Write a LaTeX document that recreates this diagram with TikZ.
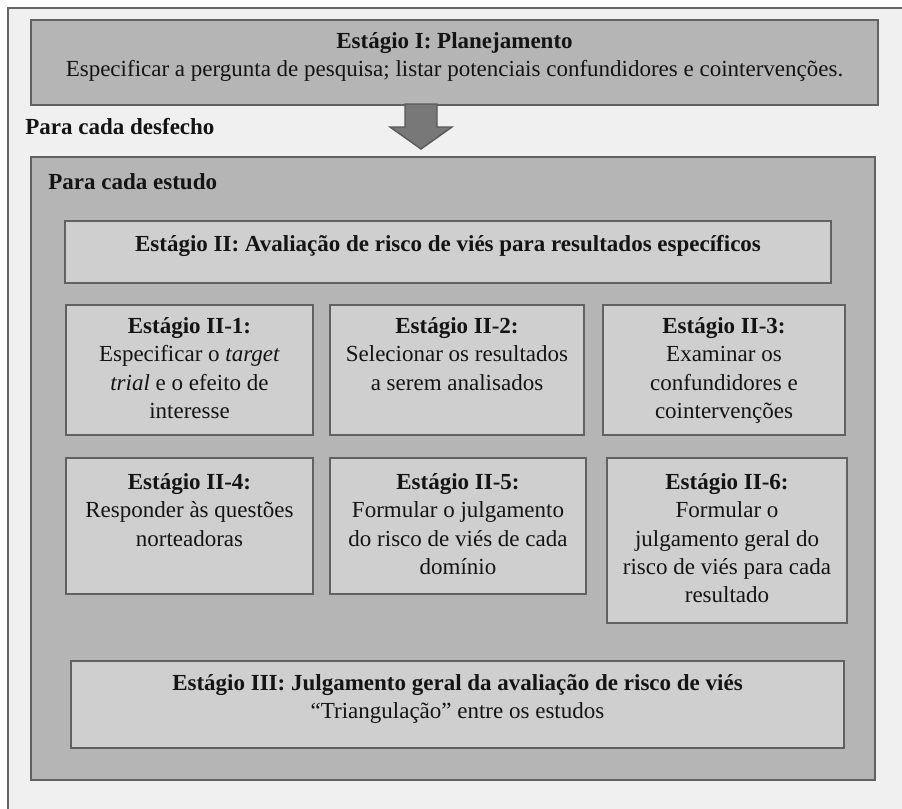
\documentclass[tikz,border=0pt]{standalone}
\usepackage{fontspec}
\setmainfont{Liberation Serif}
\usetikzlibrary{positioning,fit}
\tikzset{
  bigbox/.style={draw=black!62, line width=1pt, fill=black!29, inner sep=0pt},
  stagebox/.style={draw=black!62, line width=1pt, fill=black!19, inner sep=0pt},
  stagetext/.style={align=center, inner sep=0pt, anchor=north, text=black!92,
    font=\fontsize{11.5}{14.2}\selectfont},
  headtext/.style={inner sep=0pt, anchor=west, text=black!92,
    font=\fontsize{11.5}{14.2}\selectfont\bfseries},
}
\begin{document}
\begin{tikzpicture}[x=0.5pt,y=-0.5pt]
\useasboundingbox (0,0) rectangle (902,809);
\fill[white] (0,0) rectangle (902,809);
\draw[line width=1pt,draw=black!60,fill=black!6] (8,8) rectangle (912,822);
% Stage I
\node[bigbox, fit={(31,20) (878,105)}] (st1) {};
\node[stagetext, below=6.5pt of st1.north] (st1t)
  {\textbf{Estágio I: Planejamento}\\
   Especificar a pergunta de pesquisa; listar potenciais confundidores e cointervenções.};
% arrow
\def\ax{421}
\filldraw[draw=black!65,line width=0.7pt,fill=black!53]
  (\ax-16,104) -- (\ax+16,104) -- (\ax+16,127) -- (\ax+31,127) -- (\ax,149)
  -- (\ax-31,127) -- (\ax-16,127) -- cycle;
\node[headtext] (desf) at (25,127) {Para cada desfecho};
% per study
\node[bigbox, fit={(31,157) (875,780)}] (est) {};
\node[headtext] (estt) at (48,182) {Para cada estudo};
% Stage II
\node[stagebox, fit={(65,221) (831,283)}] (st2) {};
\node[stagetext, below=7.5pt of st2.north] (st2t)
  {\textbf{Estágio II: Avaliação de risco de viés para resultados específicos}};
\node[stagebox, fit={(66,305) (313,435)}] (st21) {};
\node[stagebox, fit={(330,305) (584,435)}] (st22) {};
\node[stagebox, fit={(603,305) (845,435)}] (st23) {};
\node[stagebox, fit={(66,458) (313,594)}] (st24) {};
\node[stagebox, fit={(330,458) (586,594)}] (st25) {};
\node[stagebox, fit={(607,458) (847,623)}] (st26) {};
\node[stagetext, below=6.5pt of st21.north] (st21t)
  {\textbf{Estágio II-1:}\\ Especificar o \textit{target}\\ \textit{trial} e o efeito de\\ interesse};
\node[stagetext, below=6.5pt of st22.north] (st22t)
  {\textbf{Estágio II-2:}\\ Selecionar os resultados\\ a serem analisados};
\node[stagetext, below=6.5pt of st23.north] (st23t)
  {\textbf{Estágio II-3:}\\ Examinar os\\ confundidores e\\ cointervenções};
\node[stagetext, below=8pt of st24.north] (st24t)
  {\textbf{Estágio II-4:}\\ Responder às questões\\ norteadoras};
\node[stagetext, below=8pt of st25.north] (st25t)
  {\textbf{Estágio II-5:}\\ Formular o julgamento\\ do risco de viés de cada\\ domínio};
\node[stagetext, below=8pt of st26.north] (st26t)
  {\textbf{Estágio II-6:}\\ Formular o\\ julgamento geral do\\ risco de viés para cada\\ resultado};
% Stage III
\node[stagebox, fit={(71,661) (844,748)}] (st3) {};
\node[stagetext, below=7pt of st3.north] (st3t)
  {\textbf{Estágio III: Julgamento geral da avaliação de risco de viés}\\
   “Triangulação” entre os estudos};
\end{tikzpicture}
\end{document}
